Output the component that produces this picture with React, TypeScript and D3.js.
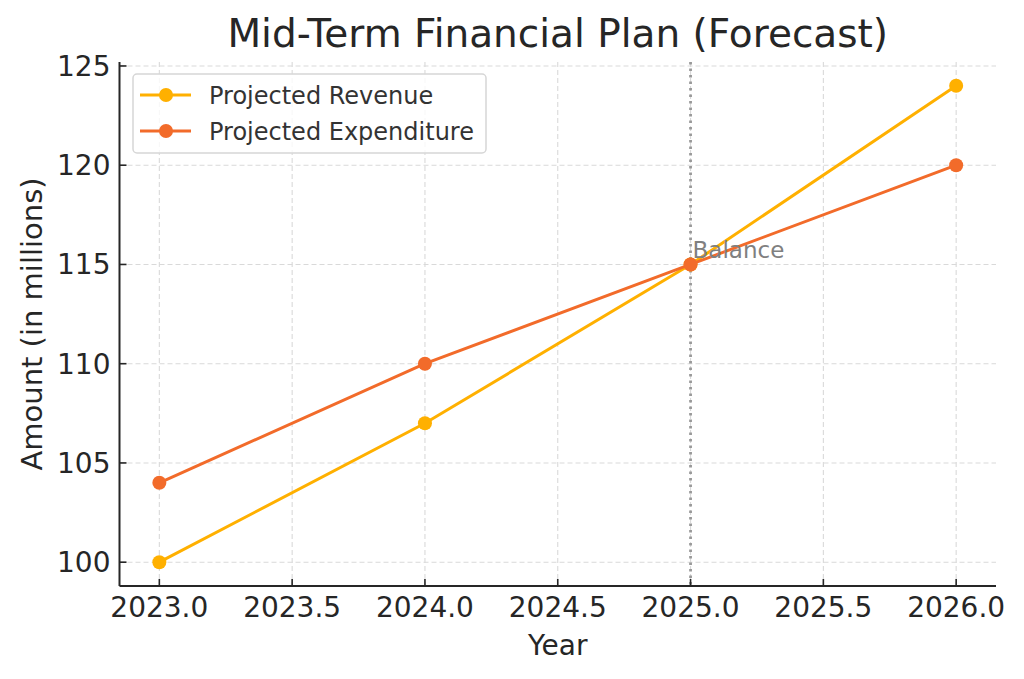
import React from "react";
import * as d3 from "d3";

const years = [2023, 2024, 2025, 2026];
const revenue = [100, 107, 115, 124];
const expenditure = [104, 110, 115, 120];
const xTicks = [2023.0, 2023.5, 2024.0, 2024.5, 2025.0, 2025.5, 2026.0];
const yTicks = [100, 105, 110, 115, 120, 125];
const seriesNames = ["Projected Revenue", "Projected Expenditure"];
const seriesColors = ["#FFB000", "#F26B2A"];
const balanceYear = 2025;
const balanceValue = 115;

export default function App() {
  const W = 1024, H = 679;
  const left = 119.5, right = 996, top = 62, bottom = 586;
  const x = d3.scaleLinear().domain([2022.85, 2026.15]).range([left, right]);
  const y = d3.scaleLinear().domain([98.8, 125.2]).range([bottom, top]);
  const font = "DejaVu Sans, sans-serif";
  const txt = "#262626";
  const series = [revenue, expenditure];
  const line = d3.line<number>().x((_, i) => x(years[i])).y((d) => y(d));

  return (
    <svg width={W} height={H} style={{ position: "absolute", left: 0, top: 0, background: "#fff" }} fontFamily={font}>
      <rect width={W} height={H} fill="#fff" />
      {xTicks.map((t) => (
        <line key={"gx" + t} x1={x(t)} x2={x(t)} y1={top} y2={bottom} stroke="#d9d9d9" strokeWidth={1.1} strokeDasharray="5,3" />
      ))}
      {yTicks.map((t) => (
        <line key={"gy" + t} x1={left} x2={right} y1={y(t)} y2={y(t)} stroke="#d9d9d9" strokeWidth={1.1} strokeDasharray="5,3" />
      ))}
      <line x1={x(balanceYear)} x2={x(balanceYear)} y1={top} y2={bottom} stroke="#999" strokeWidth={2.8} strokeDasharray="2.5,4" />
      {series.map((s, si) => (
        <g key={"s" + si}>
          <path d={line(s) || ""} fill="none" stroke={seriesColors[si]} strokeWidth={3} />
          {s.map((v, i) => (
            <circle key={i} cx={x(years[i])} cy={y(v)} r={7} fill={seriesColors[si]} />
          ))}
        </g>
      ))}
      <text x={x(balanceYear) + 2} y={y(balanceValue) - 6} fontSize={23} fill="#808080">Balance</text>
      <line x1={left} x2={left} y1={top} y2={bottom} stroke={txt} strokeWidth={2} />
      <line x1={left} x2={right} y1={bottom} y2={bottom} stroke={txt} strokeWidth={2} />
      {xTicks.map((t) => (
        <g key={"xt" + t}>
          <line x1={x(t)} x2={x(t)} y1={bottom} y2={bottom - 7} stroke={txt} strokeWidth={1.6} />
          <text x={x(t)} y={bottom + 31} fontSize={28} fill={txt} textAnchor="middle">{t.toFixed(1)}</text>
        </g>
      ))}
      {yTicks.map((t) => (
        <g key={"yt" + t}>
          <line x1={left} x2={left + 7} y1={y(t)} y2={y(t)} stroke={txt} strokeWidth={1.6} />
          <text x={left - 9} y={y(t) + 10} fontSize={28} fill={txt} textAnchor="end">{t}</text>
        </g>
      ))}
      <text x={(left + right) / 2} y={47} fontSize={39} fill={txt} textAnchor="middle">Mid-Term Financial Plan (Forecast)</text>
      <text x={(left + right) / 2} y={655} fontSize={28} fill={txt} textAnchor="middle">Year</text>
      <text transform={`translate(42,${(top + bottom) / 2}) rotate(-90)`} fontSize={29} fill={txt} textAnchor="middle">Amount (in millions)</text>
      <g>
        <rect x={133} y={74} width={353} height={79} rx={4} fill="#fff" fillOpacity={0.8} stroke="#d6d6d6" strokeWidth={1.5} />
        {seriesNames.map((n, i) => {
          const cy = 95 + i * 36;
          return (
            <g key={n}>
              <line x1={140} x2={191} y1={cy} y2={cy} stroke={seriesColors[i]} strokeWidth={3} />
              <circle cx={166} cy={cy} r={7} fill={seriesColors[i]} />
              <text x={209} y={cy + 8.5} fontSize={24} fill="#333">{n}</text>
            </g>
          );
        })}
      </g>
    </svg>
  );
}
